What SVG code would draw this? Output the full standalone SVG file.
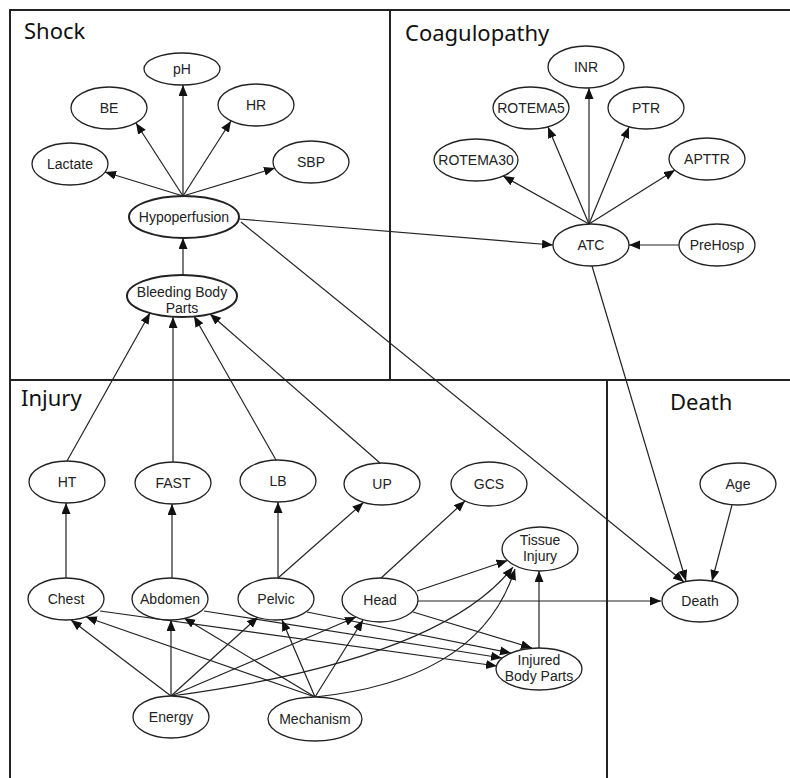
<svg xmlns="http://www.w3.org/2000/svg" width="790" height="778" viewBox="0 0 790 778">
<style>
.frame{fill:none;stroke:#222;stroke-width:2}
.n ellipse{fill:#fff;stroke:#222;stroke-width:1.3}
.n.b ellipse{stroke-width:2}
.n text{font-family:"Liberation Sans",Arial,sans-serif;font-size:14px;fill:#222;text-anchor:middle}
.t{font-family:"Noto Sans","Open Sans",sans-serif;font-size:22px;fill:#111}
#edges path,#edges line{fill:none;stroke:#222;stroke-width:1.2;marker-end:url(#ah)}
</style>
<defs>
<marker id="ah" markerUnits="userSpaceOnUse" markerWidth="12" markerHeight="10" refX="11" refY="4.5" orient="auto">
<path d="M0,0 L11,4.5 L0,9 z" fill="#111"/>
</marker>
</defs>
<rect width="790" height="778" fill="#fff"/>
<g id="frames">
<path class="frame" d="M10,778 L10,10 L790,10 M390,10 L390,380 M10,380 L790,380 M607,380 L607,778"/>
<text class="t" x="24" y="39">Shock</text>
<text class="t" x="405" y="41">Coagulopathy</text>
<text class="t" x="21" y="406">Injury</text>
<text class="t" x="670" y="410">Death</text>
</g>
<g id="edges">
<line x1="183" y1="196" x2="183" y2="85"/>
<line x1="183" y1="196" x2="136" y2="123"/>
<line x1="183" y1="196" x2="231" y2="121"/>
<line x1="183" y1="196" x2="105" y2="172"/>
<line x1="183" y1="196" x2="275" y2="168"/>
<line x1="183" y1="275" x2="183" y2="238"/>
<line x1="589" y1="224" x2="589" y2="88"/>
<line x1="589" y1="224" x2="548" y2="127"/>
<line x1="589" y1="224" x2="629" y2="127"/>
<line x1="589" y1="224" x2="503" y2="176"/>
<line x1="589" y1="224" x2="675" y2="170"/>
<line x1="239" y1="219" x2="553" y2="245"/>
<line x1="679" y1="245" x2="629" y2="245"/>
<line x1="592" y1="266" x2="686" y2="581"/>
<line x1="241" y1="222" x2="684" y2="582"/>
<line x1="732" y1="505" x2="712" y2="581"/>
<line x1="67" y1="461" x2="150" y2="313"/>
<line x1="173" y1="462" x2="173" y2="317"/>
<line x1="276" y1="460" x2="194" y2="316"/>
<line x1="380" y1="463" x2="210" y2="314"/>
<line x1="66" y1="578" x2="66" y2="503"/>
<line x1="172" y1="578" x2="172" y2="504"/>
<line x1="278" y1="578" x2="278" y2="502"/>
<line x1="278" y1="578" x2="363.5" y2="502.5"/>
<line x1="380" y1="579" x2="465" y2="501"/>
<line x1="417" y1="591" x2="507.5" y2="560.5"/>
<line x1="418" y1="601" x2="661" y2="601"/>
<line x1="413" y1="612" x2="532" y2="648"/>
<line x1="307" y1="612" x2="511" y2="653"/>
<line x1="204" y1="611" x2="502" y2="658"/>
<line x1="100" y1="611" x2="497" y2="666"/>
<line x1="539" y1="648" x2="539" y2="571"/>
<line x1="171" y1="696" x2="71" y2="620"/>
<line x1="171" y1="696" x2="171" y2="620"/>
<line x1="171" y1="696" x2="258" y2="617"/>
<line x1="171" y1="696" x2="356" y2="617"/>
<path d="M171,696 Q440,660 513,567"/>
<line x1="315" y1="697" x2="86" y2="617"/>
<line x1="315" y1="697" x2="184" y2="618"/>
<line x1="315" y1="697" x2="282" y2="620"/>
<line x1="315" y1="697" x2="363" y2="620"/>
<path d="M315,697 Q480,680 515,569"/>
</g>
<g id="pH" class="n"><ellipse cx="182" cy="69" rx="38" ry="16"/><text x="182" y="74">pH</text></g>
<g id="BE" class="n"><ellipse cx="109" cy="108" rx="38" ry="21"/><text x="109" y="113">BE</text></g>
<g id="HR" class="n"><ellipse cx="256" cy="105" rx="38" ry="21"/><text x="256" y="110">HR</text></g>
<g id="Lactate" class="n"><ellipse cx="70" cy="164" rx="38" ry="21"/><text x="70" y="169">Lactate</text></g>
<g id="SBP" class="n"><ellipse cx="311" cy="162" rx="38" ry="21"/><text x="311" y="167">SBP</text></g>
<g id="Hypoperfusion" class="n b"><ellipse cx="184" cy="217" rx="55" ry="21"/><text x="184" y="222">Hypoperfusion</text></g>
<g id="BleedingBodyParts" class="n b"><ellipse cx="182" cy="296" rx="55" ry="21"/><text x="182" y="297">Bleeding Body</text><text x="182" y="313">Parts</text></g>
<g id="INR" class="n"><ellipse cx="586" cy="67" rx="38" ry="21"/><text x="586" y="72">INR</text></g>
<g id="ROTEMA5" class="n"><ellipse cx="531" cy="108" rx="38" ry="21"/><text x="531" y="113">ROTEMA5</text></g>
<g id="PTR" class="n"><ellipse cx="646" cy="108" rx="38" ry="21"/><text x="646" y="113">PTR</text></g>
<g id="ROTEMA30" class="n"><ellipse cx="476" cy="160" rx="42" ry="21"/><text x="476" y="165">ROTEMA30</text></g>
<g id="APTTR" class="n"><ellipse cx="707" cy="159" rx="38" ry="21"/><text x="707" y="164">APTTR</text></g>
<g id="ATC" class="n"><ellipse cx="591" cy="245" rx="38" ry="21"/><text x="591" y="250">ATC</text></g>
<g id="PreHosp" class="n"><ellipse cx="717" cy="245" rx="38" ry="21"/><text x="717" y="250">PreHosp</text></g>
<g id="HT" class="n"><ellipse cx="67" cy="482" rx="38" ry="21"/><text x="67" y="487">HT</text></g>
<g id="FAST" class="n"><ellipse cx="173" cy="483" rx="38" ry="21"/><text x="173" y="488">FAST</text></g>
<g id="LB" class="n"><ellipse cx="278" cy="481" rx="38" ry="21"/><text x="278" y="486">LB</text></g>
<g id="UP" class="n"><ellipse cx="382" cy="484" rx="38" ry="21"/><text x="382" y="489">UP</text></g>
<g id="GCS" class="n"><ellipse cx="489" cy="484" rx="38" ry="22"/><text x="489" y="489">GCS</text></g>
<g id="TissueInjury" class="n"><ellipse cx="540" cy="549" rx="38" ry="22"/><text x="540" y="545">Tissue</text><text x="540" y="561">Injury</text></g>
<g id="InjuredBodyParts" class="n"><ellipse cx="539" cy="669" rx="43" ry="21"/><text x="539" y="665">Injured</text><text x="539" y="681">Body Parts</text></g>
<g id="Chest" class="n"><ellipse cx="66" cy="599" rx="38" ry="21"/><text x="66" y="604">Chest</text></g>
<g id="Abdomen" class="n"><ellipse cx="170" cy="599" rx="38" ry="21"/><text x="170" y="604">Abdomen</text></g>
<g id="Pelvic" class="n"><ellipse cx="276" cy="599" rx="38" ry="21"/><text x="276" y="604">Pelvic</text></g>
<g id="Head" class="n"><ellipse cx="380" cy="600" rx="38" ry="22"/><text x="380" y="605">Head</text></g>
<g id="Energy" class="n"><ellipse cx="171" cy="717" rx="38" ry="21"/><text x="171" y="722">Energy</text></g>
<g id="Mechanism" class="n"><ellipse cx="315" cy="719" rx="47" ry="22"/><text x="315" y="724">Mechanism</text></g>
<g id="Age" class="n"><ellipse cx="738" cy="484" rx="38" ry="21"/><text x="738" y="489">Age</text></g>
<g id="Death" class="n"><ellipse cx="700" cy="601" rx="38" ry="21"/><text x="700" y="606">Death</text></g>
</svg>
